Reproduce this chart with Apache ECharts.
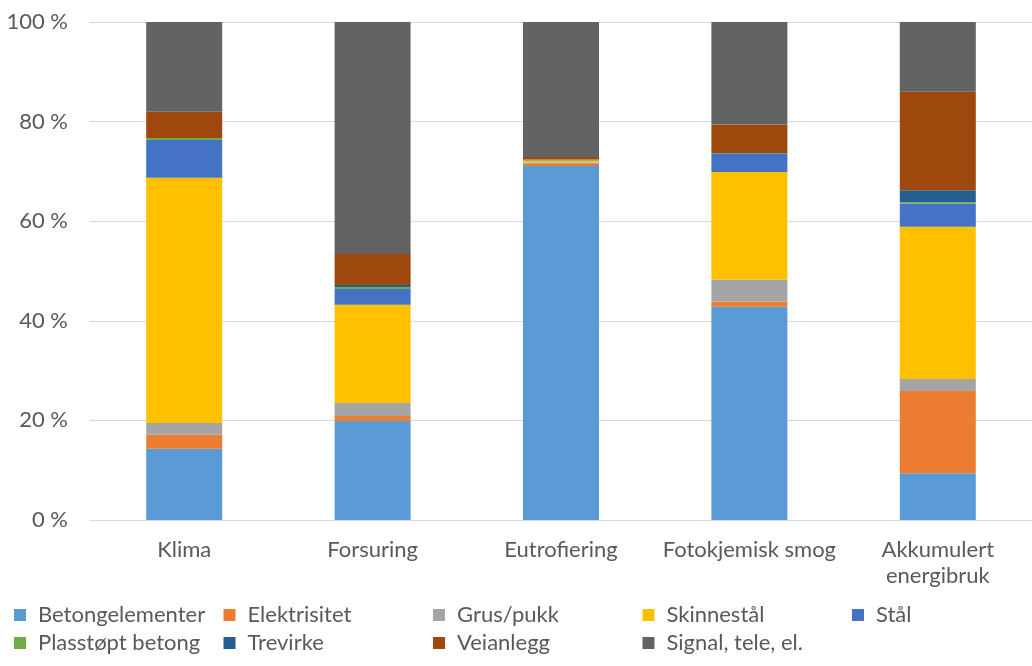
<!DOCTYPE html>
<html>
<head>
<meta charset="utf-8">
<script src="https://cdn.jsdelivr.net/npm/echarts@6/dist/echarts.min.js"></script>
<style>
  html, body { margin: 0; padding: 0; background: #ffffff; }
  #chart { width: 1032px; height: 666px; }
</style>
</head>
<body>
<div id="chart"></div>
<script>
// Impact categories along the x axis
const categories = ['Klima', 'Forsuring', 'Eutrofiering', 'Fotokjemisk smog', 'Akkumulert\nenergibruk'];

// Share of each impact (percent) per component, bottom to top of the stack
const betongelementer = [14.3, 19.9, 71.1, 42.8, 9.4];
const elektrisitet    = [2.8, 1.0, 0.4, 1.1, 16.5];
const grusPukk        = [2.4, 2.6, 0.3, 4.4, 2.4];
const skinnestal      = [49.2, 19.7, 0.4, 21.6, 30.6];
const stal            = [7.6, 3.2, 0.1, 3.6, 4.6];
const plasstoptBetong = [0.4, 0.4, 0.1, 0.1, 0.3];
const trevirke        = [0.0, 0.4, 0.0, 0.1, 2.4];
const veianlegg       = [5.3, 6.2, 0.5, 5.7, 19.8];
const signalTele      = [18.0, 46.6, 27.1, 20.6, 14.0];

const yTicks = [0, 20, 40, 60, 80, 100];

const seriesDefs = [
  { name: 'Betongelementer', data: betongelementer, color: '#5B9BD5' },
  { name: 'Elektrisitet', data: elektrisitet, color: '#ED7D31' },
  { name: 'Grus/pukk', data: grusPukk, color: '#A5A5A5' },
  { name: 'Skinnestål', data: skinnestal, color: '#FFC000' },
  { name: 'Stål', data: stal, color: '#4472C4' },
  { name: 'Plasstøpt betong', data: plasstoptBetong, color: '#70AD47' },
  { name: 'Trevirke', data: trevirke, color: '#255E91' },
  { name: 'Veianlegg', data: veianlegg, color: '#9E480E' },
  { name: 'Signal, tele, el.', data: signalTele, color: '#636363' }
];

const textColor = '#595959';
const fontFamily = 'Lato, "Open Sans", sans-serif';
const fontSize = 22;

// One legend block per series, laid out in a 5-column grid
const legends = seriesDefs.map((s, i) => ({
  data: [s.name],
  left: 14 + (i % 5) * 209.5,
  top: 604 + Math.floor(i / 5) * 28,
  icon: 'rect',
  itemWidth: 12,
  itemHeight: 12,
  itemGap: 0,
  padding: 0,
  textStyle: { color: textColor, fontSize: fontSize, fontFamily: fontFamily, padding: [0, 0, 0, 7] },
  selectedMode: false
}));

const chart = echarts.init(document.getElementById('chart'), null, { renderer: 'canvas' });
chart.setOption({
  animation: false,
  backgroundColor: '#ffffff',
  grid: { left: 90, top: 22, width: 950, height: 498, containLabel: false },
  legend: legends,
  xAxis: {
    type: 'category',
    data: categories,
    axisLine: { show: true, lineStyle: { color: '#d9d9d9', width: 1 } },
    axisTick: { show: false },
    axisLabel: {
      color: textColor, fontSize: fontSize, fontFamily: fontFamily,
      margin: 17, lineHeight: 26, interval: 0
    }
  },
  yAxis: {
    type: 'value',
    min: 0, max: 100, interval: 20,
    axisLine: { show: false },
    axisTick: { show: false },
    splitLine: { lineStyle: { color: '#d9d9d9', width: 1 } },
    axisLabel: {
      color: textColor, fontSize: fontSize, fontFamily: fontFamily, margin: 22,
      formatter: v => (yTicks.indexOf(v) >= 0 ? v + ' %' : '')
    }
  },
  series: seriesDefs.map(s => ({
    name: s.name,
    type: 'bar',
    stack: 'total',
    barWidth: 76,
    data: s.data,
    itemStyle: { color: s.color },
    emphasis: { disabled: true }
  }))
});
</script>
</body>
</html>
